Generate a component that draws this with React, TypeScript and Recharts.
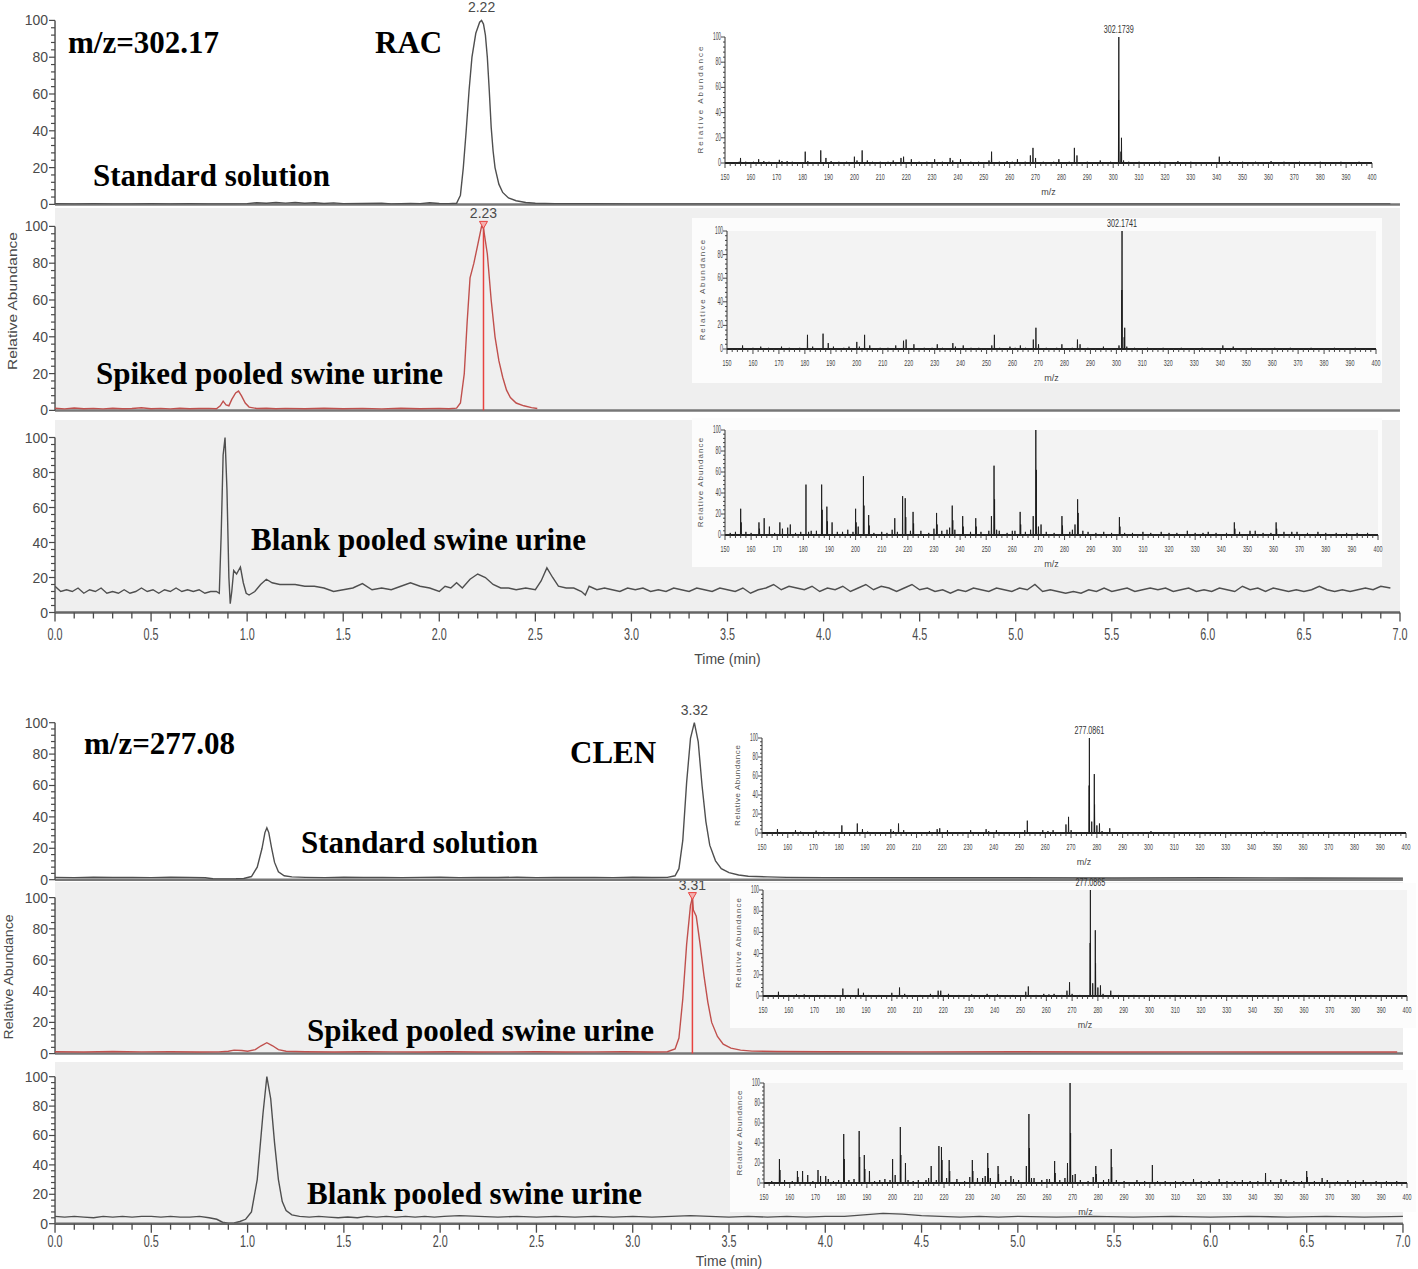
import React from 'react';
import { LineChart, Line, XAxis, YAxis, CartesianGrid, ReferenceLine, ReferenceDot } from 'recharts';

type Pt = [number, number];

const SANS = "'Liberation Sans Narrow', 'Liberation Sans', Arial, sans-serif";
const SERIF = "'Liberation Serif', 'Times New Roman', serif";
const INK = '#4a4a4a';
const TRACE = '#4f4f4f';
const SPIKED = '#c0504d';
const MARK = '#e8423f';
const PANEL = '#efefef';
const PAGE_W = 1418;

// tick labels
const timeLabels = [0, 0.5, 1, 1.5, 2, 2.5, 3, 3.5, 4, 4.5, 5, 5.5, 6, 6.5, 7];
const abLabels = [0, 20, 40, 60, 80, 100];
const mzLabels = [150, 160, 170, 180, 190, 200, 210, 220, 230, 240, 250, 260, 270, 280, 290, 300, 310, 320, 330, 340, 350, 360, 370, 380, 390, 400];
const timeTicks = Array.from({ length: 71 }, (_, i) => i / 10);
const abTicks = Array.from({ length: 26 }, (_, i) => i * 4);
const mzTicks = Array.from({ length: 126 }, (_, i) => 150 + i * 2);

// chromatograms, m/z 302.17 (RAC)
const racStd: Pt[] = [
  [0.00, 0.4], [0.10, 0.3], [0.20, 0.4], [0.30, 0.3], [0.40, 0.3], [0.50, 0.4], [0.60, 0.3], [0.70, 0.4], [0.80, 0.3], [0.90, 0.3],
  [1.00, 0.4], [1.05, 0.9], [1.10, 0.6], [1.15, 1.0], [1.20, 0.7], [1.25, 1.0], [1.30, 0.6], [1.35, 0.9], [1.40, 0.5], [1.45, 0.8],
  [1.50, 0.4], [1.60, 0.5], [1.70, 0.7], [1.75, 0.3], [1.85, 0.5], [1.90, 0.4], [1.95, 0.9], [2.00, 0.5], [2.05, 0.4], [2.09, 0.6],
  [2.11, 5], [2.125, 20], [2.14, 40], [2.155, 62], [2.17, 80], [2.19, 93], [2.21, 99], [2.22, 100], [2.23, 98], [2.24, 92],
  [2.25, 80], [2.26, 62], [2.27, 42], [2.28, 29], [2.29, 20], [2.31, 11], [2.33, 6.5], [2.36, 3.5], [2.40, 2], [2.45, 1],
  [2.50, 0.6], [2.60, 0.4], [2.80, 0.4], [3.00, 0.3], [3.50, 0.3], [4.00, 0.3], [4.50, 0.3], [5.00, 0.3], [5.50, 0.3], [6.00, 0.3],
  [6.50, 0.3], [6.95, 0.3],
];
const racSpiked: Pt[] = [
  [0.00, 1.2], [0.05, 0.8], [0.10, 1.3], [0.15, 0.9], [0.20, 1.1], [0.25, 0.8], [0.30, 1.2], [0.35, 0.9], [0.40, 1.0], [0.45, 1.4],
  [0.50, 0.9], [0.55, 1.1], [0.60, 0.8], [0.65, 1.2], [0.70, 0.9], [0.75, 1.0], [0.80, 1.1], [0.84, 0.9], [0.86, 2.5], [0.875, 5],
  [0.89, 3], [0.905, 2.5], [0.92, 6], [0.94, 9.5], [0.955, 10.5], [0.97, 8], [0.99, 4], [1.01, 1.8], [1.05, 1.0], [1.10, 1.2],
  [1.15, 0.9], [1.20, 1.1], [1.30, 0.9], [1.40, 1.2], [1.50, 0.9], [1.60, 1.1], [1.70, 0.8], [1.80, 1.2], [1.90, 0.9], [2.00, 1.1],
  [2.05, 0.9], [2.09, 1.2], [2.11, 4], [2.13, 20], [2.145, 48], [2.16, 72], [2.18, 80], [2.20, 90], [2.22, 100], [2.23, 99],
  [2.25, 85], [2.27, 60], [2.29, 40], [2.31, 27], [2.33, 18], [2.35, 11], [2.37, 7], [2.40, 4], [2.44, 2.5], [2.48, 1.5], [2.51, 1.0],
];
const racBlank: Pt[] = [
  [0.00, 15], [0.03, 12], [0.06, 13], [0.09, 12], [0.12, 14], [0.15, 11], [0.18, 13], [0.21, 12], [0.24, 14], [0.27, 11],
  [0.30, 12], [0.33, 11], [0.36, 13], [0.39, 11], [0.42, 12], [0.45, 14], [0.48, 12], [0.51, 13], [0.54, 11], [0.57, 13],
  [0.60, 12], [0.63, 14], [0.66, 12], [0.69, 13], [0.72, 12], [0.75, 13], [0.78, 11], [0.81, 12], [0.84, 12], [0.855, 11],
  [0.865, 45], [0.875, 90], [0.885, 100], [0.895, 70], [0.905, 20], [0.912, 5], [0.92, 12], [0.93, 24], [0.945, 22], [0.965, 26],
  [0.98, 17], [0.995, 11], [1.01, 10], [1.04, 12], [1.07, 16], [1.10, 19], [1.13, 17], [1.17, 16], [1.21, 16], [1.25, 16],
  [1.30, 15], [1.35, 15], [1.40, 14], [1.45, 12], [1.50, 13], [1.55, 14], [1.60, 16.5], [1.65, 13], [1.70, 14], [1.75, 13],
  [1.80, 15], [1.85, 17], [1.90, 15], [1.95, 14], [2.00, 12], [2.03, 15], [2.06, 14], [2.09, 17], [2.12, 14], [2.16, 19],
  [2.20, 22], [2.24, 20], [2.28, 16], [2.32, 14], [2.36, 14], [2.40, 13], [2.45, 14], [2.50, 13], [2.53, 18], [2.56, 25.5],
  [2.59, 20], [2.62, 15], [2.66, 14], [2.70, 14], [2.74, 12], [2.76, 10], [2.78, 15], [2.82, 13], [2.86, 14], [2.90, 13],
  [2.94, 12], [2.98, 14], [3.02, 13], [3.06, 14], [3.10, 12], [3.14, 13], [3.18, 12], [3.22, 14], [3.26, 13], [3.30, 12],
  [3.34, 14], [3.38, 13], [3.42, 12], [3.46, 14], [3.50, 13], [3.54, 12], [3.58, 14], [3.62, 11], [3.66, 13], [3.70, 14],
  [3.74, 16], [3.78, 13], [3.82, 15], [3.86, 14], [3.90, 13], [3.94, 15], [3.98, 12], [4.02, 14], [4.06, 13], [4.10, 15],
  [4.14, 12], [4.18, 14], [4.22, 16], [4.26, 13], [4.30, 15], [4.34, 14], [4.38, 12], [4.42, 14], [4.46, 16], [4.50, 13],
  [4.54, 14], [4.58, 12], [4.62, 13], [4.66, 11], [4.70, 13], [4.74, 12], [4.78, 14], [4.82, 13], [4.86, 12], [4.90, 14],
  [4.94, 13], [4.98, 12], [5.02, 14], [5.06, 13], [5.10, 16], [5.14, 12], [5.18, 13], [5.22, 12], [5.26, 11], [5.30, 12],
  [5.34, 11], [5.38, 13], [5.42, 12], [5.46, 14], [5.50, 12], [5.54, 13], [5.58, 14], [5.62, 12], [5.66, 13], [5.70, 14],
  [5.74, 13], [5.78, 14], [5.82, 12], [5.86, 13], [5.90, 14], [5.94, 12], [5.98, 13], [6.02, 12], [6.06, 14], [6.10, 13],
  [6.14, 12], [6.18, 15], [6.22, 13], [6.26, 14], [6.30, 12], [6.34, 14], [6.38, 13], [6.42, 12], [6.46, 13], [6.50, 12],
  [6.54, 13], [6.58, 15], [6.62, 13], [6.66, 12], [6.70, 13], [6.74, 12], [6.78, 13], [6.82, 14], [6.86, 13], [6.90, 15], [6.95, 14],
];

// chromatograms, m/z 277.08 (CLEN)
const clenStd: Pt[] = [
  [0.00, 1.5], [0.10, 1.3], [0.20, 1.6], [0.30, 1.4], [0.40, 1.5], [0.50, 1.3], [0.60, 1.6], [0.70, 1.4], [0.78, 1.2], [0.82, 0.6],
  [0.88, 0.5], [0.94, 0.6], [0.98, 0.8], [1.02, 2], [1.05, 8], [1.075, 20], [1.09, 30], [1.10, 33], [1.11, 30], [1.125, 20],
  [1.14, 11], [1.16, 5], [1.19, 2.5], [1.23, 1.8], [1.30, 1.5], [1.40, 1.3], [1.50, 1.6], [1.60, 1.4], [1.70, 1.5], [1.80, 1.3],
  [1.90, 1.5], [2.00, 1.6], [2.10, 1.3], [2.20, 1.5], [2.30, 1.4], [2.40, 1.6], [2.50, 1.3], [2.60, 1.5], [2.70, 1.4], [2.80, 1.5],
  [2.90, 1.3], [3.00, 1.6], [3.10, 1.4], [3.18, 1.5], [3.22, 2.5], [3.24, 7], [3.26, 25], [3.28, 62], [3.30, 90], [3.32, 100],
  [3.34, 88], [3.36, 60], [3.38, 37], [3.40, 22], [3.43, 12], [3.46, 7], [3.50, 4.5], [3.55, 3], [3.60, 2.2], [3.70, 1.8],
  [3.80, 1.5], [4.00, 1.3], [4.50, 1.2], [5.00, 1.2], [5.50, 1.1], [6.00, 1.2], [6.50, 1.1], [7.00, 1.0],
];
const clenSpiked: Pt[] = [
  [0.00, 1.2], [0.15, 1.0], [0.30, 1.3], [0.45, 1.1], [0.60, 1.2], [0.75, 1.0], [0.85, 1.1], [0.90, 1.5], [0.93, 2.2], [0.97, 2.0],
  [1.00, 1.5], [1.04, 2.5], [1.07, 5], [1.10, 7], [1.13, 5], [1.16, 2.5], [1.20, 1.5], [1.30, 1.2], [1.45, 1.0], [1.60, 1.2],
  [1.75, 1.1], [1.90, 1.0], [2.05, 1.2], [2.20, 1.0], [2.35, 1.1], [2.50, 1.2], [2.65, 1.0], [2.80, 1.1], [2.95, 1.2], [3.10, 1.0],
  [3.18, 1.2], [3.22, 3], [3.24, 10], [3.26, 35], [3.28, 70], [3.30, 95], [3.31, 100], [3.315, 92], [3.33, 88], [3.35, 70],
  [3.37, 50], [3.39, 33], [3.41, 20], [3.44, 11], [3.47, 6], [3.51, 3.5], [3.56, 2.2], [3.62, 1.6], [3.75, 1.3], [4.00, 1.2],
  [4.50, 1.1], [5.00, 1.2], [5.50, 1.0], [6.00, 1.1], [6.50, 1.0], [6.97, 1.0],
];
const clenBlank: Pt[] = [
  [0.00, 5], [0.05, 4.5], [0.10, 5], [0.15, 4.5], [0.20, 4], [0.25, 5], [0.30, 4.5], [0.35, 5], [0.40, 4.5], [0.45, 5],
  [0.50, 5], [0.55, 4.5], [0.60, 5], [0.65, 4.5], [0.70, 4.5], [0.75, 5], [0.80, 4], [0.84, 3], [0.87, 1], [0.90, 0.3],
  [0.93, 0.5], [0.96, 1.5], [0.99, 3], [1.02, 8], [1.05, 30], [1.08, 75], [1.10, 100], [1.12, 85], [1.14, 55], [1.16, 30],
  [1.18, 15], [1.20, 9], [1.23, 6], [1.27, 5], [1.32, 4.5], [1.37, 5], [1.42, 4.5], [1.47, 4], [1.52, 4.5], [1.57, 4],
  [1.62, 5], [1.67, 4.5], [1.72, 5], [1.77, 4.5], [1.82, 5], [1.87, 4.5], [1.92, 5], [1.97, 4.5], [2.02, 5], [2.10, 5.5],
  [2.20, 5], [2.30, 4.5], [2.40, 5], [2.50, 4.5], [2.60, 5], [2.70, 4.5], [2.80, 5], [2.90, 4.5], [3.00, 5], [3.10, 4.5],
  [3.20, 5], [3.30, 5.5], [3.40, 5], [3.50, 4.5], [3.60, 5], [3.70, 4.5], [3.80, 5], [3.90, 4.5], [4.00, 5], [4.10, 5],
  [4.20, 6], [4.30, 7], [4.40, 6.5], [4.50, 5.5], [4.60, 5], [4.70, 4.5], [4.80, 5], [4.90, 4.5], [5.00, 5], [5.20, 4.5],
  [5.40, 5], [5.60, 4.5], [5.80, 5], [6.00, 4.5], [6.20, 5], [6.40, 4.5], [6.60, 5], [6.80, 4.5], [7.00, 5],
];

// mass spectra [m/z, relative abundance]
const racStdMs: Pt[] = [
  [155.5, 1], [156, 4], [158, 1], [161, 1], [163, 3], [165, 1.5], [167, 1], [171, 2.5], [172, 1.5], [174, 1.5], [176, 1],
  [181, 9], [182, 1.5], [187, 10], [189, 4], [191, 1.5], [194, 1], [197, 1], [200, 5], [201, 2], [203, 10], [205, 2],
  [207, 1], [210, 1], [213, 1], [215, 2], [218, 4], [219, 5], [222, 3], [225, 1], [228, 1], [231, 3], [234, 1], [237, 4],
  [238, 2], [241, 3], [245, 1], [248, 1], [252, 2], [253, 9], [256, 1], [259, 1.5], [261, 1], [263, 3], [266, 1], [268, 6],
  [269, 12], [270, 4], [273, 1], [277, 1], [279, 3], [283, 1], [285, 12], [286, 6], [290, 1], [295, 2], [299, 1],
  [302.1, 50], [302.17, 100], [303, 9], [303.2, 20], [304, 2], [306, 1], [310, 1], [318, 1], [325, 1.5], [330, 1], [341, 5],
  [345, 1.5], [350, 1], [355, 1], [361, 1.5], [366, 1], [372, 1], [380, 1], [388, 1], [395, 1],
];
const racSpikedMs: Pt[] = [
  [156, 3], [160, 1], [163, 2], [166, 1], [171, 2], [174, 1], [178, 1], [181, 12], [183, 2], [187, 13], [189, 5], [191, 2],
  [195, 1], [197, 2], [200, 6], [201, 2], [203, 12], [205, 3], [209, 1], [212, 1], [215, 3], [218, 7], [219, 8], [222, 4],
  [226, 1], [229, 1], [231, 4], [233, 1], [237, 5], [238, 2], [241, 3], [244, 1], [247, 1], [252, 3], [253, 12], [255, 1],
  [259, 2], [261, 1], [263, 3], [265, 1], [268, 8], [269, 18], [270, 4], [273, 1], [277, 1], [279, 4], [283, 1], [285, 8],
  [286, 4], [289, 1], [295, 2], [301, 3], [302.1, 50], [302.17, 100], [303, 10], [303.2, 18], [304, 2], [307, 1], [312, 1],
  [318, 1], [325, 1], [333, 1], [341, 3], [345, 2], [352, 1], [361, 1], [367, 1], [375, 1], [384, 1], [392, 1],
];
const racBlankMs: Pt[] = [
  [152, 2], [154, 3], [156, 25], [156.2, 12], [158, 3], [160, 2], [163, 12], [163.2, 6], [165, 16], [167, 8], [169, 2],
  [171, 12], [172, 6], [174, 7], [175, 10], [177, 2], [179, 3], [181, 48], [182, 3], [183, 4], [185, 4], [187, 48],
  [187.2, 24], [189, 27], [189.2, 13], [191, 12], [193, 3], [195, 3], [197, 5], [199, 3], [200, 25], [200.2, 12], [201, 8],
  [203, 56], [203.2, 28], [205, 19], [205.2, 9], [207, 2], [210, 3], [212, 2], [214, 5], [215, 16], [216, 3], [218, 37],
  [219, 35], [219.2, 17], [221, 4], [222, 22], [222.2, 11], [225, 4], [228, 2], [230, 6], [231, 21], [231.2, 10], [233, 4],
  [235, 5], [236, 7], [237, 28], [237.2, 14], [238, 5], [241, 18], [241.2, 8], [244, 3], [246, 16], [246.2, 8], [248, 3],
  [251, 4], [252, 18], [253, 66], [253.2, 34], [254, 5], [255, 4], [258, 2], [260, 4], [261, 4], [263, 22], [263.2, 10],
  [265, 3], [267, 5], [268, 18], [269, 100], [269.2, 62], [270, 8], [271, 10], [273, 3], [276, 2], [279, 18], [279.2, 9],
  [282, 3], [283, 5], [284, 10], [285, 34], [285.2, 21], [287, 4], [289, 3], [292, 2], [295, 3], [298, 2], [301, 17],
  [301.2, 8], [303, 2], [306, 2], [310, 3], [313, 2], [317, 3], [320, 2], [323, 2], [327, 4], [330, 2], [333, 2], [335, 3],
  [338, 2], [342, 2], [345, 12], [345.2, 6], [347, 3], [351, 4], [353, 4], [356, 2], [359, 2], [361, 12], [361.2, 6],
  [364, 3], [367, 3], [369, 3], [373, 2], [377, 3], [380, 2], [384, 2], [388, 2], [392, 2], [396, 2],
];
const clenStdMs: Pt[] = [
  [156, 4], [160, 1], [163, 3], [165, 1.5], [168, 1], [171, 2.5], [174, 1.5], [177, 1], [181, 8], [183, 1], [187, 10],
  [189, 4], [191, 1.5], [195, 1], [200, 4], [201, 2], [203, 10], [205, 3], [209, 1], [215, 2], [218, 4], [219, 5], [222, 3],
  [226, 1], [231, 3], [234, 1], [237, 4], [238, 2], [241, 3], [245, 1], [249, 1], [252, 3], [253, 13], [255, 1], [259, 3],
  [261, 2], [263, 3], [266, 1], [268, 9], [269, 17], [270, 3], [273, 1], [277, 50], [277.09, 100], [278, 12], [279, 62],
  [279.1, 30], [280, 8], [281, 10], [282, 2], [285, 5], [287, 1], [292, 1], [296, 1], [301, 2], [310, 1], [320, 1], [330, 1],
  [345, 1.5], [352, 1], [362, 1], [372, 1], [384, 1], [396, 1],
];
const clenSpikedMs: Pt[] = [
  [156, 4], [160, 1], [163, 1.5], [166, 1.5], [171, 1], [174, 1], [181, 7], [183, 1], [187, 7], [189, 3], [191, 1], [195, 1],
  [200, 3], [203, 8], [205, 2], [211, 1], [215, 2], [218, 5], [219, 5], [222, 2], [226, 1], [231, 1.5], [237, 2], [241, 1.5],
  [247, 1], [252, 4], [253, 9], [256, 1], [259, 2], [261, 1.5], [263, 2], [266, 1], [268, 5], [269, 13], [270, 2], [273, 1],
  [277, 50], [277.09, 100], [278, 12], [279, 62], [279.1, 31], [280, 8], [281, 10], [282, 2], [285, 5], [288, 1], [294, 1],
  [301, 1], [310, 1], [319, 1], [327, 1], [335, 1], [345, 1], [360, 1], [371, 1], [386, 1],
];
const clenBlankMs: Pt[] = [
  [153, 2], [156, 24], [156.2, 13], [158, 3], [161, 2], [163, 12], [163.2, 6], [165, 12], [167, 8], [169, 2], [171, 13],
  [172, 7], [174, 7], [175, 4], [177, 2], [179, 3], [181, 49], [181.2, 24], [183, 3], [185, 4], [187, 52], [187.2, 26],
  [189, 28], [189.2, 14], [191, 12], [193, 2], [195, 3], [197, 4], [199, 3], [200, 24], [201, 8], [203, 56], [203.2, 28],
  [205, 20], [206, 3], [208, 2], [210, 3], [213, 3], [214, 5], [215, 17], [217, 3], [218, 37], [219, 36], [219.2, 23],
  [221, 5], [222, 23], [222.2, 12], [225, 4], [228, 2], [230, 6], [231, 23], [231.2, 12], [233, 5], [235, 5], [236, 7],
  [237, 30], [237.2, 15], [238, 5], [241, 17], [241.2, 9], [244, 3], [246, 7], [247, 4], [249, 3], [252, 17], [253, 69],
  [253.2, 35], [254, 5], [255, 5], [258, 3], [260, 4], [261, 4], [263, 22], [263.2, 10], [265, 3], [267, 5], [268, 20],
  [269, 100], [269.2, 50], [270, 8], [271, 9], [273, 3], [276, 2], [278, 6], [279, 17], [279.2, 9], [282, 3], [284, 4],
  [285, 34], [285.2, 16], [287, 3], [290, 2], [295, 3], [298, 2], [301, 18], [303, 2], [306, 2], [310, 2], [313, 2],
  [317, 4], [320, 2], [323, 2], [327, 4], [330, 2], [333, 2], [336, 3], [339, 2], [342, 2], [345, 10], [347, 3], [351, 4],
  [353, 3], [356, 2], [359, 2], [361, 12], [361.2, 6], [364, 2], [367, 5], [369, 3], [373, 2], [377, 3], [380, 2], [383, 3],
  [388, 2], [392, 2], [396, 2],
];

const near = (a: number, b: number) => Math.abs(a - b) < 1e-6;

const makeTimeTick = (labelDy: number) => (p: any) => {
  const v = p.payload.value as number;
  const major = timeLabels.some((m) => near(m, v));
  return (
    <g>
      <line x1={p.x} x2={p.x} y1={p.y} y2={p.y + (major ? 9 : 6)} stroke={INK} strokeWidth={1.3} />
      {major && (
        <text x={p.x} y={p.y + labelDy} textAnchor="middle" fontSize={16} fill={INK} fontFamily={SANS}
          textLength={15} lengthAdjust="spacingAndGlyphs">{v.toFixed(1)}</text>
      )}
    </g>
  );
};

const AbTick = (p: any) => {
  const v = p.payload.value as number;
  if (v > 100) return <g />;
  const major = abLabels.includes(v);
  return (
    <g>
      <line x1={p.x - (major ? 6 : 4)} x2={p.x} y1={p.y} y2={p.y} stroke={INK} strokeWidth={1.2} />
      {major && (
        <text x={p.x - 7} y={p.y + 5} textAnchor="end" fontSize={14} fill={INK} fontFamily={SANS}>{v}</text>
      )}
    </g>
  );
};

const MzTick = (p: any) => {
  const v = p.payload.value as number;
  const major = mzLabels.includes(v);
  return (
    <g>
      <line x1={p.x} x2={p.x} y1={p.y} y2={p.y + (major ? 5 : 3)} stroke="#333" strokeWidth={0.9} />
      {major && (
        <text x={p.x} y={p.y + 17} textAnchor="middle" fontSize={9} fill="#444" fontFamily={SANS}
          textLength={9} lengthAdjust="spacingAndGlyphs">{v}</text>
      )}
    </g>
  );
};

const SpecAbTick = (p: any) => {
  const v = p.payload.value as number;
  const major = abLabels.includes(v);
  return (
    <g>
      <line x1={p.x - (major ? 4 : 2)} x2={p.x} y1={p.y} y2={p.y} stroke="#333" strokeWidth={0.9} />
      {major && (
        <text x={p.x - 4} y={p.y + 3} textAnchor="end" fontSize={10} fill="#444" fontFamily={SANS}
          textLength={v === 100 ? 8 : v === 0 ? 3 : 5.5} lengthAdjust="spacingAndGlyphs">{v}</text>
      )}
    </g>
  );
};

interface ChromProps {
  data: Pt[];
  plotRight: number;
  y100: number;
  y0: number;
  color: string;
  bg: string;
  axisH?: number;
  labelDy?: number;
  apex?: { t: number; label: string; marker?: boolean };
}

function Chrom({ data, plotRight, y100, y0, color, bg, axisH = 0, labelDy = 27, apex }: ChromProps) {
  const unit = (y0 - y100) / 100;
  const plotTop = y0 - 110 * unit;
  const timeAxis = axisH > 0;
  const mt = 24;
  const mb = timeAxis ? 2 : 10;
  const mr = Math.min(16, PAGE_W - plotRight);
  const left = 10;
  const width = plotRight - left + mr;
  const height = mt + (y0 - plotTop) + axisH + mb;
  const rows = data.map(([t, a]) => ({ t, a }));
  const TimeTick = makeTimeTick(labelDy);
  return (
    <div style={{ position: 'absolute', left, top: plotTop - mt, width, height }}>
      <LineChart width={width} height={height} data={rows} margin={{ top: mt, right: mr, bottom: mb, left: 0 }}>
        <CartesianGrid horizontal={false} vertical={false} fill={bg} />
        <XAxis type="number" dataKey="t" domain={[0, 7]} ticks={timeTicks} interval={0} hide={!timeAxis}
          height={axisH} tick={TimeTick} tickSize={0} tickMargin={0} tickLine={false}
          axisLine={{ stroke: '#666', strokeWidth: 2.5 }} allowDataOverflow
          label={timeAxis ? { value: 'Time (min)', position: 'insideBottom', offset: 2, fontSize: 14, fill: INK, fontFamily: SANS } : undefined} />
        <YAxis type="number" domain={[0, 110]} ticks={abTicks} interval={0} width={45} tick={<AbTick />}
          tickSize={0} tickMargin={0} tickLine={false} axisLine={false} allowDataOverflow />
        {!timeAxis && <ReferenceLine y={0} stroke="#777" strokeWidth={2.5} />}
        <ReferenceLine segment={[{ x: 0, y: 0 }, { x: 0, y: 100 }]} stroke="#555" strokeWidth={1.5} />
        {apex && apex.marker && (
          <ReferenceLine segment={[{ x: apex.t, y: 0 }, { x: apex.t, y: 100 }]} stroke={MARK} strokeWidth={1.5} />
        )}
        <Line type="linear" dataKey="a" stroke={color} strokeWidth={1.4} dot={false} isAnimationActive={false} />
        {apex && (
          <ReferenceDot x={apex.t} y={100} r={3} isFront
            shape={(p: any) => (
              <g>
                {apex.marker && (
                  <path d={`M${p.cx - 4},${p.cy - 5}L${p.cx + 4},${p.cy - 5}L${p.cx},${p.cy + 2}Z`}
                    fill="#f4b0ae" stroke={MARK} strokeWidth={1} />
                )}
                <text x={p.cx} y={p.cy - 8} textAnchor="middle" fontSize={14} fill={INK} fontFamily={SANS}>{apex.label}</text>
              </g>
            )} />
        )}
      </LineChart>
    </div>
  );
}

interface SpecProps {
  peaks: Pt[];
  plotLeft: number;
  plotRight: number;
  y100: number;
  y0: number;
  apexMz?: number;
  apexLabel?: string;
  fill?: string;
}

function Spectrum({ peaks, plotLeft, plotRight, y100, y0, apexMz, apexLabel, fill }: SpecProps) {
  const yw = 30;
  const mt = 20;
  const xh = 34;
  const mr = Math.min(20, PAGE_W - plotRight);
  const left = plotLeft - yw;
  const top = y100 - mt;
  const width = plotRight + mr - left;
  const height = y0 - top + xh;
  const rows = [...peaks]
    .sort((a, b) => a[0] - b[0])
    .flatMap(([mz, ab]) => [{ mz: mz - 0.08, ab: 0 }, { mz, ab }, { mz: mz + 0.08, ab: 0 }]);
  return (
    <div style={{ position: 'absolute', left, top, width, height }}>
      <LineChart width={width} height={height} data={rows} margin={{ top: mt, right: mr, bottom: 0, left: 0 }}>
        {fill && <CartesianGrid horizontal={false} vertical={false} fill={fill} />}
        <XAxis type="number" dataKey="mz" domain={[150, 400]} ticks={mzTicks} interval={0} height={xh}
          tick={<MzTick />} tickSize={0} tickMargin={0} tickLine={false} axisLine={{ stroke: '#222', strokeWidth: 1.8 }}
          label={{ value: 'm/z', position: 'insideBottom', offset: 2, fontSize: 9, fill: '#444', fontFamily: SANS }} />
        <YAxis type="number" domain={[0, 100]} ticks={abTicks} interval={0} width={yw} tick={<SpecAbTick />}
          tickSize={0} tickMargin={0} tickLine={false} axisLine={{ stroke: '#333', strokeWidth: 1 }} />
        <Line type="linear" dataKey="ab" stroke="#1a1a1a" strokeWidth={0.9} dot={false} isAnimationActive={false} />
        {apexLabel && (
          <ReferenceDot x={apexMz} y={100} r={2} isFront
            shape={(p: any) => (
              <text x={p.cx} y={p.cy - 4} textAnchor="middle" fontSize={10} fill="#333" fontFamily={SANS}
                textLength={30} lengthAdjust="spacingAndGlyphs">{apexLabel}</text>
            )} />
        )}
      </LineChart>
    </div>
  );
}

// layout of the inset spectra and their white boxes
const specs: SpecProps[] = [
  { peaks: racStdMs, plotLeft: 725, plotRight: 1372, y100: 37, y0: 163, apexMz: 302.17, apexLabel: '302.1739' },
  { peaks: racSpikedMs, plotLeft: 727, plotRight: 1376, y100: 231, y0: 349, apexMz: 302.17, apexLabel: '302.1741', fill: '#f3f3f3' },
  { peaks: racBlankMs, plotLeft: 725, plotRight: 1378, y100: 430, y0: 535, fill: '#f3f3f3' },
  { peaks: clenStdMs, plotLeft: 762, plotRight: 1406, y100: 738, y0: 833, apexMz: 277.09, apexLabel: '277.0861' },
  { peaks: clenSpikedMs, plotLeft: 763, plotRight: 1407, y100: 890, y0: 996, apexMz: 277.09, apexLabel: '277.0865', fill: '#f3f3f3' },
  { peaks: clenBlankMs, plotLeft: 764, plotRight: 1407, y100: 1083, y0: 1183, fill: '#f3f3f3' },
];
const boxes = [
  { x: 692, y: 218, w: 690, h: 165 },
  { x: 692, y: 418, w: 690, h: 149 },
  { x: 730, y: 883, w: 686, h: 145 },
  { x: 730, y: 1070, w: 686, h: 142 },
];

const notes = [
  { text: 'm/z=302.17', x: 68, y: 53 },
  { text: 'RAC', x: 375, y: 53 },
  { text: 'Standard solution', x: 93, y: 186 },
  { text: 'Spiked pooled swine urine', x: 96, y: 384 },
  { text: 'Blank pooled swine urine', x: 251, y: 550 },
  { text: 'm/z=277.08', x: 84, y: 754 },
  { text: 'CLEN', x: 570, y: 763 },
  { text: 'Standard solution', x: 301, y: 853 },
  { text: 'Spiked pooled swine urine', x: 307, y: 1041 },
  { text: 'Blank pooled swine urine', x: 307, y: 1204 },
];

export default function App() {
  return (
    <div style={{ position: 'absolute', left: 0, top: 0, width: PAGE_W, height: 1269, background: '#fff', overflow: 'hidden', fontFamily: SANS }}>
      {/* lower panels first so the labels of the upper panels stay on top */}
      <Chrom data={racBlank} plotRight={1400} y100={437} y0={612} color={TRACE} bg={PANEL} axisH={53} labelDy={27} />
      <Chrom data={racSpiked} plotRight={1400} y100={226} y0={410} color={SPIKED} bg={PANEL} apex={{ t: 2.23, label: '2.23', marker: true }} />
      <Chrom data={racStd} plotRight={1400} y100={20} y0={204} color={TRACE} bg="#ffffff" apex={{ t: 2.22, label: '2.22' }} />
      <Chrom data={clenBlank} plotRight={1403} y100={1077} y0={1224} color={TRACE} bg={PANEL} axisH={44} labelDy={23} />
      <Chrom data={clenSpiked} plotRight={1403} y100={898} y0={1054} color={SPIKED} bg={PANEL} apex={{ t: 3.31, label: '3.31', marker: true }} />
      <Chrom data={clenStd} plotRight={1403} y100={723} y0={880} color={TRACE} bg="#ffffff" apex={{ t: 3.32, label: '3.32' }} />

      {boxes.map((b, i) => (
        <div key={i} style={{ position: 'absolute', left: b.x, top: b.y, width: b.w, height: b.h, background: '#fcfcfc' }} />
      ))}
      {specs.map((s, i) => (
        <Spectrum key={i} {...s} />
      ))}

      <svg width={PAGE_W} height={1269} style={{ position: 'absolute', left: 0, top: 0, pointerEvents: 'none' }}>
        {notes.map((n, i) => (
          <text key={i} x={n.x} y={n.y} fontFamily={SERIF} fontWeight="bold" fontSize={31} fill="#000">{n.text}</text>
        ))}
        <text transform="translate(17,301) rotate(-90)" textAnchor="middle" fontSize={13} fill={INK} fontFamily={SANS}
          textLength={138} lengthAdjust="spacingAndGlyphs">Relative Abundance</text>
        <text transform="translate(13,977) rotate(-90)" textAnchor="middle" fontSize={13} fill={INK} fontFamily={SANS}
          textLength={125} lengthAdjust="spacingAndGlyphs">Relative Abundance</text>
        {specs.map((s, i) => (
          <text key={i} transform={`translate(${s.plotLeft - 22},${(s.y100 + s.y0) / 2}) rotate(-90)`} textAnchor="middle"
            fontSize={8} fill="#555" fontFamily={SANS} textLength={(s.y0 - s.y100) * 0.85} lengthAdjust="spacing">Relative Abundance</text>
        ))}
      </svg>
    </div>
  );
}
